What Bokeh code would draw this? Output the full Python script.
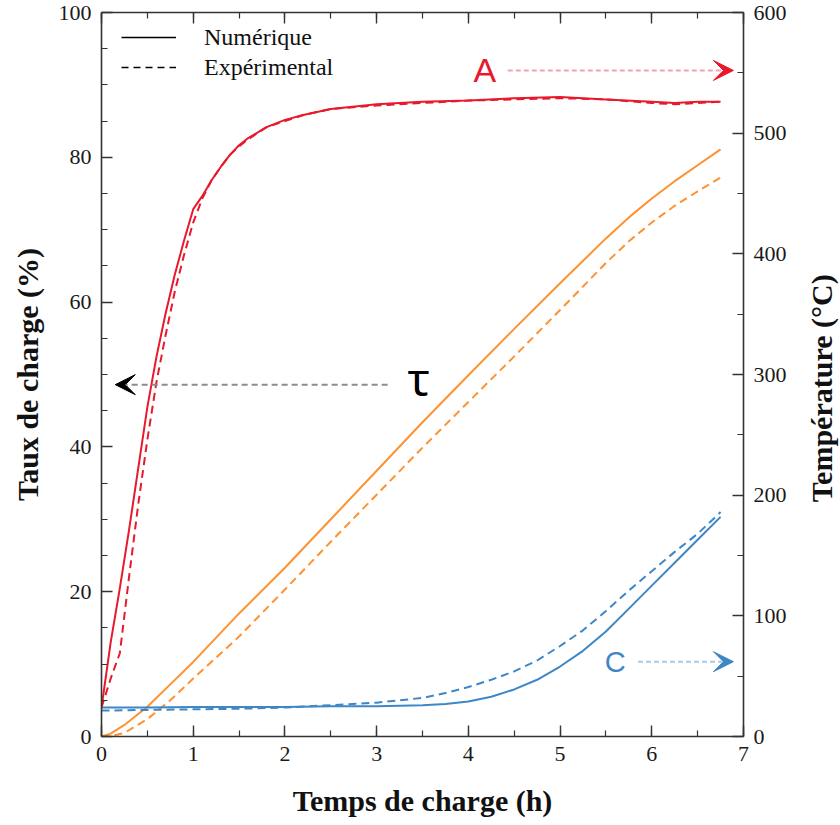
import math
from bokeh.plotting import figure
from bokeh.layouts import row
from bokeh.models import (Range1d, LinearAxis, SingleIntervalTicker, Label, Arrow, VeeHead,
                          Legend, LegendItem)
from bokeh.embed import file_html
from bokeh.resources import INLINE

# ---------------- data ----------------
# Curve A : temperature (°C, right axis)
hours_A = [0, 0.1, 0.2, 0.3, 0.4, 0.5, 0.6, 0.7, 0.8, 0.9, 1.0, 1.1, 1.2, 1.3, 1.4, 1.5, 1.6,
           1.8, 2.0, 2.2, 2.5, 3.0, 3.5, 4.0, 4.5, 5.0, 5.5, 6.0, 6.25, 6.5, 6.75]
temp_A_num = [24, 78, 123, 171, 222, 273, 315, 351, 383, 411, 437, 448, 461, 472, 482, 490, 496,
              505, 511, 515, 520, 524, 526, 527, 529, 530, 528, 526, 525, 526, 526]
temp_A_exp = [24, 48, 69, 132, 192, 246, 294, 333, 369, 399, 426, 446, 461, 472, 482, 489, 495,
              505, 510, 515, 520, 523, 525, 527, 528, 529, 528, 525, 524, 525, 526]

# Curve tau : state of charge (%, left axis)
hours_tau = [0, 0.1, 0.25, 0.5, 0.75, 1.0, 1.5, 2.0, 2.5, 3.0, 3.5, 4.0, 4.5, 5.0, 5.5, 5.75,
             6.0, 6.25, 6.5, 6.75]
tau_num = [0, 0.4, 1.6, 4.1, 7.2, 10.3, 17.0, 23.3, 30.0, 36.7, 43.4, 49.9, 56.3, 62.6, 68.8, 71.7,
           74.3, 76.7, 78.9, 81.1]
tau_exp = [0, 0.05, 0.5, 2.4, 5.0, 8.0, 13.8, 20.3, 26.9, 33.4, 39.9, 46.2, 52.5, 58.9, 65.4, 68.4,
           71.0, 73.3, 75.3, 77.2]

# Curve C : temperature (°C, right axis)
hours_C = [0, 0.5, 1, 1.5, 2, 2.5, 3, 3.5, 3.75, 4.0, 4.25, 4.5, 4.75, 5.0, 5.25, 5.5, 5.75,
           6.0, 6.25, 6.5, 6.75]
temp_C_num = [24, 24, 24.5, 24.5, 24.5, 25, 25, 26, 27, 29, 33, 39, 47, 58, 71, 87, 106,
              125, 144, 163, 182]
temp_C_exp = [21.5, 22, 22.5, 23, 24, 26, 28, 32, 36, 41, 47, 54, 63, 75, 88, 104, 121,
              137, 153, 168, 186]

legend_labels = ["Numérique", "Expérimental"]
x_title = "Temps de charge (h)"
y_title = "Taux de charge (%)"
y2_title = "Température (°C)"

# annotation anchors (data units)
A_label = ("A", 4.18, 552)          # right axis
A_arrow = (4.43, 6.89, 552)
C_label = ("C", 5.60, 62)           # right axis
C_arrow = (5.85, 6.89, 62)
tau_label = ("τ", 3.46, 49.5)       # left axis
tau_arrow = (3.12, 0.15, 48.6)
y2_title_pos = (0.5, 48.1)          # inside the narrow title strip

RED = "#e8192c"
ORANGE = "#ff9130"
BLUE = "#3d87c6"
AX = "#333333"

p = figure(frame_width=642, frame_height=724, output_backend="svg", toolbar_location=None,
           x_range=Range1d(0, 7), y_range=Range1d(0, 100),
           min_border_left=101, min_border_right=60, min_border_top=12, min_border_bottom=86)
p.extra_y_ranges = {"temp": Range1d(0, 600)}
p.grid.visible = False
p.outline_line_color = None
p.background_fill_color = "white"
p.border_fill_color = "white"


def style(ax, labels=True):
    ax.axis_line_color = AX
    ax.axis_line_width = 1.6
    ax.major_tick_in = 11
    ax.major_tick_out = 0
    ax.minor_tick_in = 6
    ax.minor_tick_out = 0
    ax.major_tick_line_color = AX
    ax.major_tick_line_width = 1.4
    ax.minor_tick_line_color = AX
    ax.minor_tick_line_width = 1.2
    ax.major_label_text_font = "Liberation Serif"
    ax.major_label_text_font_size = "22px" if labels else "1px"
    ax.major_label_text_color = "#1a1a1a" if labels else None
    ax.major_label_standoff = 10 if labels else 0
    ax.axis_label_text_font = "Liberation Serif"
    ax.axis_label_text_font_style = "bold"
    ax.axis_label_text_font_size = "30px"
    ax.axis_label_text_color = "#111111"


xb = p.xaxis[0]
xb.ticker = SingleIntervalTicker(interval=1, num_minor_ticks=2)
style(xb)
xb.axis_label = x_title
xb.axis_label_standoff = 20

yl = p.yaxis[0]
yl.ticker = SingleIntervalTicker(interval=20, num_minor_ticks=4)
style(yl)
yl.axis_label = y_title
yl.axis_label_standoff = 12

yr = LinearAxis(y_range_name="temp", ticker=SingleIntervalTicker(interval=100, num_minor_ticks=2))
style(yr)
p.add_layout(yr, "right")

xt = LinearAxis(ticker=SingleIntervalTicker(interval=1, num_minor_ticks=2))
style(xt, labels=False)
p.add_layout(xt, "above")

# ---------------- curves ----------------
DASH = "8 5"
p.line(hours_tau, tau_num, color=ORANGE, line_width=2)
p.line(hours_tau, tau_exp, color=ORANGE, line_width=2, line_dash=DASH)
p.line(hours_C, temp_C_num, color=BLUE, line_width=2, y_range_name="temp")
p.line(hours_C, temp_C_exp, color=BLUE, line_width=2, line_dash=DASH, y_range_name="temp")
p.line(hours_A, temp_A_exp, color=RED, line_width=2, line_dash=DASH, y_range_name="temp")
p.line(hours_A, temp_A_num, color=RED, line_width=2, y_range_name="temp")

# ---------------- legend (black key lines, no data drawn) ----------------
r_num = p.line(x=[math.nan], y=[math.nan], color="black", line_width=1.6)
r_exp = p.line(x=[math.nan], y=[math.nan], color="black", line_width=1.6, line_dash="7 5")
legend = Legend(items=[LegendItem(label=legend_labels[0], renderers=[r_num]),
                       LegendItem(label=legend_labels[1], renderers=[r_exp])],
                location=(20, 654), margin=0, padding=9, spacing=0,
                glyph_width=55, glyph_height=30, label_height=30, label_standoff=28,
                label_text_font="Liberation Serif", label_text_font_size="24px",
                label_text_color="#111111",
                border_line_color=None, background_fill_alpha=0)
p.add_layout(legend)

# ---------------- annotations ----------------
p.add_layout(Label(text=A_label[0], x=A_label[1], y=A_label[2], y_range_name="temp",
                   text_font="Liberation Sans", text_font_size="34px", text_color=RED,
                   text_align="center", text_baseline="middle"))
p.add_layout(Arrow(x_start=A_arrow[0], x_end=A_arrow[1], y_start=A_arrow[2], y_end=A_arrow[2],
                   y_range_name="temp", line_color="#f4a3ad", line_width=2, line_dash="5 3",
                   end=VeeHead(size=20, fill_color=RED, line_color=RED)))

p.add_layout(Label(text=C_label[0], x=C_label[1], y=C_label[2], y_range_name="temp",
                   text_font="Liberation Sans", text_font_size="29px", text_color=BLUE,
                   text_align="center", text_baseline="middle"))
p.add_layout(Arrow(x_start=C_arrow[0], x_end=C_arrow[1], y_start=C_arrow[2], y_end=C_arrow[2],
                   y_range_name="temp", line_color="#a9c9e8", line_width=2, line_dash="5 3",
                   end=VeeHead(size=20, fill_color=BLUE, line_color=BLUE)))

p.add_layout(Label(text=tau_label[0], x=tau_label[1], y=tau_label[2],
                   text_font="Noto Sans", text_font_size="46px", text_color="#000000",
                   text_align="center", text_baseline="middle"))
p.add_layout(Arrow(x_start=tau_arrow[0], x_end=tau_arrow[1], y_start=tau_arrow[2], y_end=tau_arrow[2],
                   line_color="#8c8c8c", line_width=2, line_dash="6 4",
                   end=VeeHead(size=20, fill_color="#000000", line_color="#000000")))

# ---------------- right axis title strip (reads bottom-to-top) ----------------
p2 = figure(frame_width=36, frame_height=724, output_backend="svg", toolbar_location=None,
            x_range=Range1d(0, 1), y_range=Range1d(0, 100),
            x_axis_location=None, y_axis_location=None,
            min_border_left=0, min_border_right=0, min_border_top=12, min_border_bottom=86)
p2.grid.visible = False
p2.outline_line_color = None
p2.border_fill_color = "white"
p2.add_layout(Label(text=y2_title, x=y2_title_pos[0], y=y2_title_pos[1], angle=math.pi / 2,
                    text_font="Liberation Serif", text_font_style="bold", text_font_size="30px",
                    text_color="#111111", text_align="center", text_baseline="middle"))

layout = row(p, p2, spacing=0)
open("out.html", "w").write(file_html(layout, INLINE))
